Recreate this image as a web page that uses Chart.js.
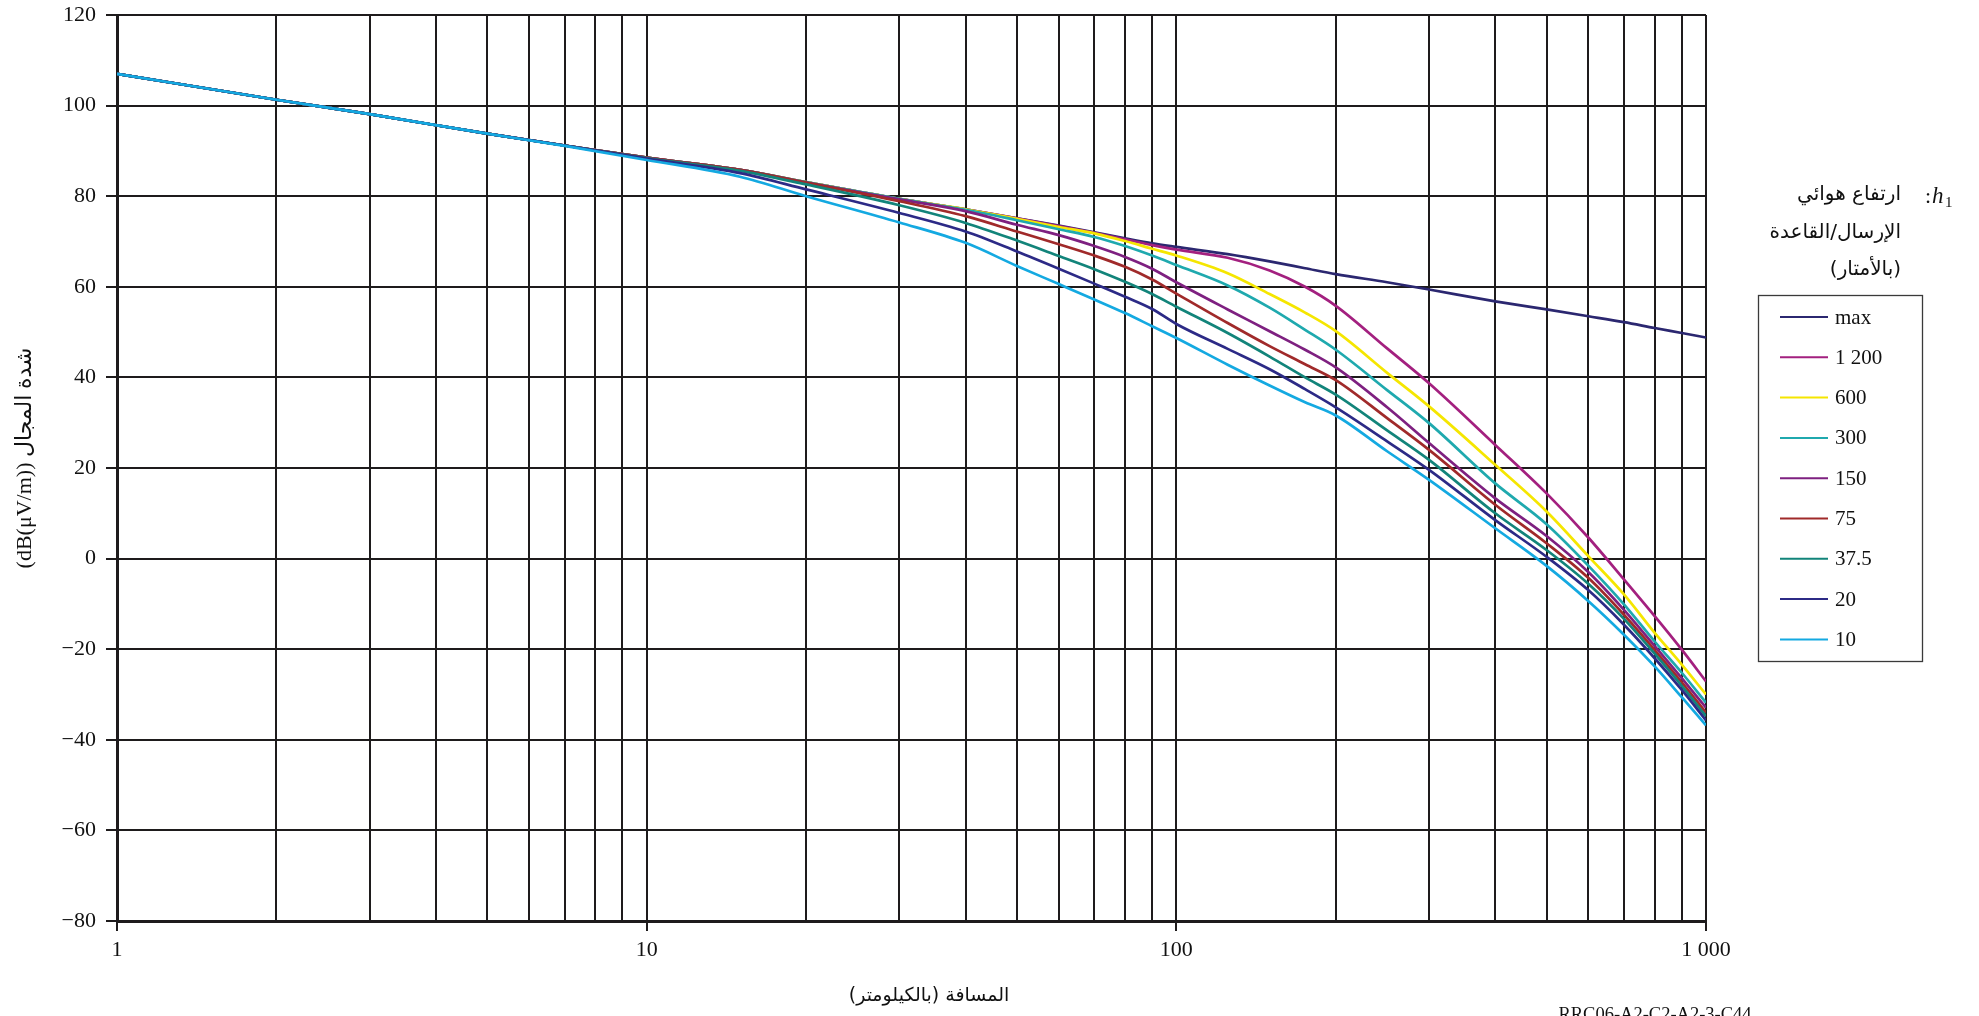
<!DOCTYPE html>
<html>
<head>
<meta charset="utf-8">
<script src="https://cdn.jsdelivr.net/npm/chart.js@4.4.1/dist/chart.umd.min.js"></script>
<style>
  html, body { margin: 0; padding: 0; background: #ffffff; }
  canvas { display: block; }
</style>
</head>
<body>
<canvas id="c" width="1979" height="1016"></canvas>
<script>
// ---------------- data ----------------
const distances = [1, 2, 3, 5, 7, 10, 15, 20, 30, 40, 50, 60, 70, 80, 90, 100, 125, 150, 175, 200, 250, 300, 400, 500, 600, 700, 800, 900, 1000];

const seriesLabels = ['max', '1 200', '600', '300', '150', '75', '37.5', '20', '10'];

const hMax   = [107.0, 101.3, 98.1, 93.8, 91.2, 88.5, 85.8, 83.1, 79.4, 77.1, 75.1, 73.5, 72.0, 70.7, 69.6, 68.8, 67.2, 65.6, 64.1, 62.8, 61.0, 59.4, 56.8, 55.0, 53.5, 52.2, 50.9, 49.8, 48.8];
const h1200  = [107.0, 101.3, 98.1, 93.8, 91.2, 88.5, 85.8, 83.1, 79.4, 77.1, 75.1, 73.4, 71.9, 70.5, 69.2, 68.2, 66.4, 63.6, 60.0, 55.8, 46.4, 38.7, 25.1, 14.4, 4.6, -4.6, -12.7, -20.1, -27.1];
const h600   = [107.0, 101.3, 98.1, 93.8, 91.2, 88.5, 85.8, 83.1, 79.4, 77.1, 75.0, 73.2, 71.8, 70.1, 68.4, 66.9, 63.0, 58.4, 54.3, 50.2, 41.0, 33.6, 20.7, 10.4, 0.5, -7.9, -16.4, -23.4, -30.0];
const h300   = [107.0, 101.3, 98.1, 93.8, 91.2, 88.5, 85.8, 83.1, 79.4, 77.0, 74.7, 72.7, 71.0, 69.0, 66.9, 64.8, 60.3, 55.4, 50.5, 46.1, 37.2, 29.9, 16.6, 7.6, -1.6, -10.1, -18.3, -25.2, -31.8];
const h150   = [107.0, 101.3, 98.1, 93.8, 91.2, 88.5, 85.8, 83.0, 79.3, 76.7, 73.7, 71.4, 69.0, 66.6, 64.0, 61.0, 55.0, 50.2, 46.1, 42.2, 33.4, 25.5, 13.3, 5.0, -3.0, -11.3, -19.3, -26.4, -32.9];
const h75    = [107.0, 101.3, 98.1, 93.8, 91.2, 88.5, 85.8, 83.0, 78.9, 75.6, 72.2, 69.4, 66.9, 64.4, 61.6, 58.5, 52.0, 46.9, 42.9, 39.4, 31.0, 24.0, 11.9, 3.4, -4.3, -12.4, -20.2, -27.3, -34.0];
const h37_5  = [107.0, 101.3, 98.1, 93.8, 91.2, 88.4, 85.6, 82.6, 78.0, 74.1, 70.2, 66.8, 63.9, 61.1, 58.4, 55.6, 49.8, 44.6, 40.0, 36.2, 28.3, 21.8, 10.0, 1.9, -5.6, -13.3, -21.0, -28.1, -34.8];
const h20    = [107.0, 101.3, 98.1, 93.8, 91.2, 88.3, 85.1, 81.5, 76.3, 72.2, 67.8, 64.0, 60.7, 57.8, 55.1, 51.8, 46.3, 41.8, 37.4, 33.4, 25.9, 19.6, 8.5, 0.4, -7.0, -14.6, -22.0, -29.0, -35.7];
const h10    = [107.0, 101.3, 98.1, 93.8, 91.1, 88.0, 84.3, 80.0, 74.2, 69.7, 64.6, 60.6, 57.2, 54.2, 51.3, 48.7, 42.8, 38.2, 34.5, 31.6, 23.7, 17.4, 6.7, -1.6, -9.4, -16.8, -23.8, -30.6, -36.8];

const seriesValues = [hMax, h1200, h600, h300, h150, h75, h37_5, h20, h10];

const xTickValues = [1,2,3,4,5,6,7,8,9,10,20,30,40,50,60,70,80,90,100,200,300,400,500,600,700,800,900,1000];
const xTickLabels = {1: '1', 10: '10', 100: '100', 1000: '1 000'};
const yMin = -80, yMax = 120, yStep = 20;

const yTitle = '(dB(μV/m)) شدة المجال';
const xTitle = 'المسافة (بالكيلومتر)';
const legendTitleLines = ['ارتفاع هوائي', 'الإرسال/القاعدة', '(بالأمتار)'];
const figureCode = 'RRC06-A2-C2-A2-3-C44';

// ---------------- styles ----------------
const colors = ['#2b2770', '#a3207f', '#f5e600', '#1fa9ae', '#7e2080', '#a02a2a', '#12847a', '#2c2a86', '#14a9e1'];
const gridColor = '#1e1b1c';
const serif = "'Liberation Serif', 'Times New Roman', 'DejaVu Sans', serif";
const arabicFont = "'DejaVu Sans', sans-serif";

const datasets = seriesLabels.map((lab, i) => ({
  label: lab,
  data: distances.map((d, k) => ({x: d, y: seriesValues[i][k]})),
  borderColor: colors[i],
  backgroundColor: colors[i],
  borderWidth: 2.7,
  pointRadius: 0,
  fill: false,
  cubicInterpolationMode: 'monotone',
  order: seriesLabels.length - 1 - i
}));

const decorPlugin = {
  id: 'decor',
  afterDraw(chart) {
    const ctx = chart.ctx;
    ctx.save();
    ctx.fillStyle = '#111';

    // Y title (rotated)
    ctx.save();
    ctx.translate(25, 458);
    ctx.rotate(-Math.PI / 2);
    ctx.textAlign = 'center';
    ctx.textBaseline = 'middle';
    ctx.font = "22px " + serif;
    ctx.fillText(yTitle, 0, 0);
    ctx.restore();

    // X title
    ctx.save();
    ctx.direction = 'rtl';
    ctx.textAlign = 'center';
    ctx.textBaseline = 'middle';
    ctx.font = "19px " + arabicFont;
    ctx.fillText(xTitle, 929, 996);
    ctx.restore();

    // figure code
    ctx.save();
    ctx.textAlign = 'center';
    ctx.textBaseline = 'alphabetic';
    ctx.font = "18.5px " + serif;
    ctx.fillText(figureCode, 1655, 1020);
    ctx.restore();

    // Legend title
    ctx.save();
    ctx.direction = 'rtl';
    ctx.textAlign = 'right';
    ctx.textBaseline = 'middle';
    ctx.font = "20px " + arabicFont;
    const ty = [195, 233, 270];
    legendTitleLines.forEach((t, i) => ctx.fillText(t, 1901, ty[i]));
    ctx.restore();
    ctx.save();
    ctx.textAlign = 'left';
    ctx.textBaseline = 'alphabetic';
    ctx.font = "22px " + serif;
    ctx.fillText(':', 1925, 203);
    ctx.font = "italic 23px " + serif;
    ctx.fillText('h', 1932, 203);
    ctx.font = "15px " + serif;
    ctx.fillText('1', 1945, 207);
    ctx.restore();

    // Legend box
    ctx.save();
    ctx.strokeStyle = '#3a3a3a';
    ctx.lineWidth = 1.3;
    ctx.strokeRect(1758.5, 295.5, 164, 366);
    ctx.font = "21px " + serif;
    ctx.textAlign = 'left';
    ctx.textBaseline = 'middle';
    chart.data.datasets.forEach((ds, i) => {
      const y = 317 + i * 40.3;
      ctx.strokeStyle = ds.borderColor;
      ctx.lineWidth = 2;
      ctx.beginPath();
      ctx.moveTo(1780, y);
      ctx.lineTo(1828, y);
      ctx.stroke();
      ctx.fillStyle = '#111';
      ctx.fillText(ds.label, 1835, y + 1);
    });
    ctx.restore();

    ctx.restore();
  }
};

new Chart(document.getElementById('c'), {
  type: 'line',
  data: { datasets },
  options: {
    responsive: false,
    devicePixelRatio: 1,
    animation: false,
    events: [],
    layout: { padding: { left: 0, right: 273, top: 15, bottom: 0 } },
    plugins: {
      legend: { display: false },
      tooltip: { enabled: false },
      title: { display: false }
    },
    scales: {
      x: {
        type: 'logarithmic',
        min: 1,
        max: 1000,
        afterBuildTicks(scale) {
          scale.ticks = xTickValues.map(v => ({ value: v }));
        },
        afterFit(scale) {
          scale.height = 95;
          scale.paddingLeft = 0;
          scale.paddingRight = 0;
        },
        ticks: {
          autoSkip: false,
          maxRotation: 0,
          minRotation: 0,
          padding: 6,
          color: '#111',
          font: { family: serif, size: 22 },
          callback: (v) => xTickLabels[v] || ''
        },
        grid: {
          color: gridColor,
          lineWidth: 2,
          tickLength: 10,
          tickWidth: 2,
          tickColor: (c) => (c.tick && xTickLabels[c.tick.value]) ? gridColor : 'rgba(0,0,0,0)'
        },
        border: { display: true, color: gridColor, width: 3 }
      },
      y: {
        type: 'linear',
        min: yMin,
        max: yMax,
        afterFit(scale) {
          scale.width = 117;
          scale.paddingTop = 0;
          scale.paddingBottom = 0;
        },
        ticks: {
          stepSize: yStep,
          padding: 10,
          color: '#111',
          font: { family: serif, size: 22 },
          callback: (v) => v < 0 ? '\u2212' + Math.abs(v) : String(v)
        },
        grid: {
          color: gridColor,
          lineWidth: 2,
          tickLength: 11,
          tickWidth: 2,
          tickColor: gridColor
        },
        border: { display: true, color: gridColor, width: 3 }
      }
    }
  },
  plugins: [decorPlugin]
});
</script>
</body>
</html>
